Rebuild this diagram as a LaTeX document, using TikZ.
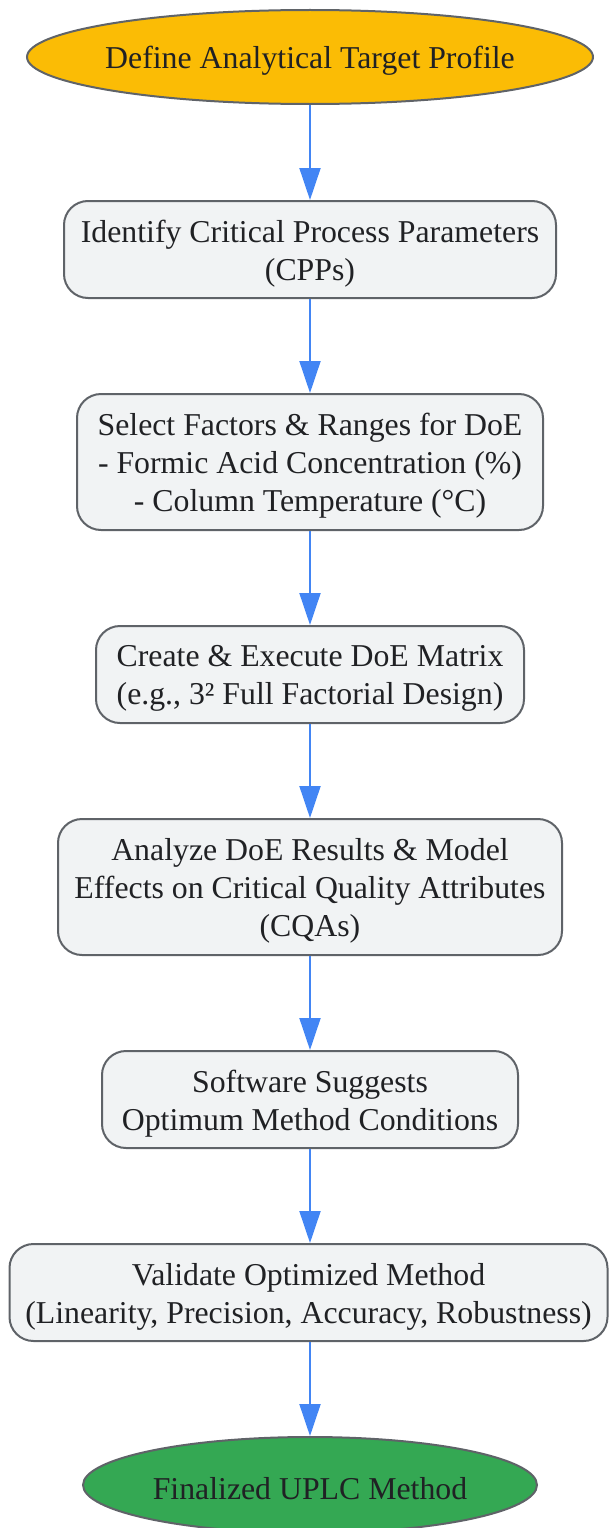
\documentclass[tikz,border=0pt]{standalone}
\usepackage{fontspec}
\setmainfont{Liberation Serif}
\usetikzlibrary{arrows.meta,shapes.geometric}
\definecolor{cyellow}{HTML}{FBBC05}
\definecolor{cgreen}{HTML}{34A853}
\definecolor{cblue}{HTML}{4285F4}
\definecolor{cbox}{HTML}{F1F3F4}
\definecolor{cline}{HTML}{5F6368}
\definecolor{ctext}{HTML}{202124}
\tikzset{
  base/.style={draw=cline, line width=2pt, inner sep=0pt},
  txt/.style={text=ctext, align=center, inner sep=0pt, yshift=-4pt,
    font=\fontsize{31.8}{38}\selectfont},
  oval/.style={base, ellipse},
  stepbox/.style={base, fill=cbox, rounded corners=24pt},
  flow/.style={draw=cblue, line width=2pt, -{Triangle[width=21pt,length=32pt]}},
}
\begin{document}
\begin{tikzpicture}[x=1pt,y=-1pt]
\useasboundingbox (0,0) rectangle (608,1528);
\node[oval, fill=cyellow, minimum width=566pt, minimum height=94pt,
  label={[txt]center:Define Analytical Target Profile}] (n0) at (310,57) {};
\node[stepbox, minimum width=492pt, minimum height=97pt,
  label={[txt]center:{Identify Critical Process Parameters\\(CPPs)}}] (n1) at (310,249.5) {};
\node[stepbox, minimum width=466pt, minimum height=136pt,
  label={[txt]center:{Select Factors \& Ranges for DoE\\- Formic Acid Concentration (\%)\\- Column Temperature (°C)}}] (n2) at (310,462) {};
\node[stepbox, minimum width=428pt, minimum height=97pt,
  label={[txt]center:{Create \& Execute DoE Matrix\\(e.g., 3² Full Factorial Design)}}] (n3) at (310,674.5) {};
\node[stepbox, minimum width=504pt, minimum height=136pt,
  label={[txt]center:{Analyze DoE Results \& Model\\Effects on Critical Quality Attributes\\(CQAs)}}] (n4) at (310,887) {};
\node[stepbox, minimum width=416pt, minimum height=97pt,
  label={[txt]center:{Software Suggests\\Optimum Method Conditions}}] (n5) at (310,1099.5) {};
\node[stepbox, minimum width=598pt, minimum height=97pt,
  label={[txt]center:{Validate Optimized Method\\(Linearity, Precision, Accuracy, Robustness)}}] (n6) at (308.5,1292.5) {};
\node[oval, fill=cgreen, minimum width=454pt, minimum height=96pt,
  label={[txt]center:Finalized UPLC Method}] (n7) at (310,1485) {};
\draw[flow] (n0) -- (n1);
\draw[flow] (n1) -- (n2);
\draw[flow] (n2) -- (n3);
\draw[flow] (n3) -- (n4);
\draw[flow] (n4) -- (n5);
\draw[flow] (n5.south -| n7.north) -- (n6.north -| n7.north);
\draw[flow] (n6.south -| n7.north) -- (n7);
\end{tikzpicture}
\end{document}
